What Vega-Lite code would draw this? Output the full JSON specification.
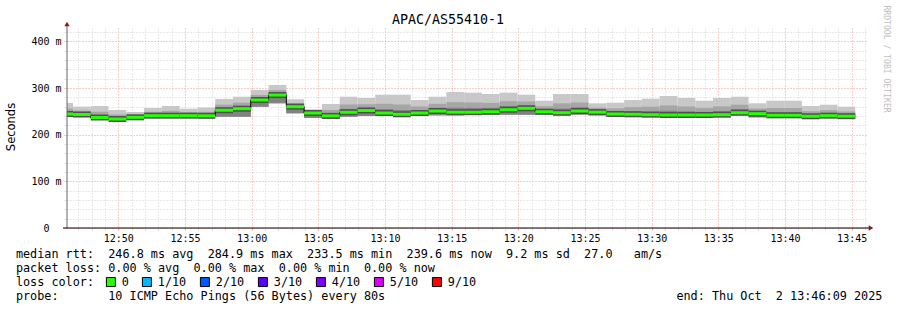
{
  "$schema": "https://vega.github.io/schema/vega-lite/v6.json",
  "width": 800,
  "height": 200,
  "autosize": "none",
  "padding": {"left": 67, "top": 28, "right": 30, "bottom": 82},
  "background": "white",
  "config": {"view": {"stroke": null}},
  "title": {"text": "APAC/AS55410-1", "font": "DejaVu Sans Mono", "fontSize": 13.3, "fontWeight": "normal", "color": "black", "anchor": "middle", "frame": "group", "dx": -19, "offset": -32, "baseline": "alphabetic"},
  "datasets": {
    "steps": [
      {"t0": "2025-10-02T12:45:16Z", "t1": "2025-10-02T12:46:36Z", "lo": 238.5, "hi": 267.9, "b": 256.1, "c": 249.5, "m": 244.3, "loss": "0"},
      {"t0": "2025-10-02T12:46:36Z", "t1": "2025-10-02T12:47:56Z", "lo": 238.5, "hi": 260.0, "b": 251.6, "c": 246.9, "m": 243.2, "loss": "0"},
      {"t0": "2025-10-02T12:47:56Z", "t1": "2025-10-02T12:49:16Z", "lo": 233.6, "hi": 261.4, "b": 249.1, "c": 242.2, "m": 236.8, "loss": "0"},
      {"t0": "2025-10-02T12:49:16Z", "t1": "2025-10-02T12:50:36Z", "lo": 232.5, "hi": 252.9, "b": 243.2, "c": 237.8, "m": 233.5, "loss": "0"},
      {"t0": "2025-10-02T12:50:36Z", "t1": "2025-10-02T12:51:56Z", "lo": 234.2, "hi": 248.6, "b": 242.9, "c": 239.7, "m": 237.2, "loss": "0"},
      {"t0": "2025-10-02T12:51:56Z", "t1": "2025-10-02T12:53:16Z", "lo": 236.8, "hi": 257.2, "b": 249.0, "c": 244.3, "m": 240.7, "loss": "0"},
      {"t0": "2025-10-02T12:53:16Z", "t1": "2025-10-02T12:54:36Z", "lo": 236.8, "hi": 261.4, "b": 251.1, "c": 245.3, "m": 240.7, "loss": "0"},
      {"t0": "2025-10-02T12:54:36Z", "t1": "2025-10-02T12:55:56Z", "lo": 237.2, "hi": 255.7, "b": 248.2, "c": 244.0, "m": 240.7, "loss": "0"},
      {"t0": "2025-10-02T12:55:56Z", "t1": "2025-10-02T12:57:16Z", "lo": 235.7, "hi": 258.0, "b": 249.2, "c": 244.3, "m": 240.4, "loss": "0"},
      {"t0": "2025-10-02T12:57:16Z", "t1": "2025-10-02T12:58:36Z", "lo": 238.5, "hi": 276.4, "b": 264.4, "c": 257.7, "m": 252.4, "loss": "0"},
      {"t0": "2025-10-02T12:58:36Z", "t1": "2025-10-02T12:59:56Z", "lo": 238.5, "hi": 281.4, "b": 268.6, "c": 261.4, "m": 255.7, "loss": "0"},
      {"t0": "2025-10-02T12:59:56Z", "t1": "2025-10-02T13:01:16Z", "lo": 260.0, "hi": 295.7, "b": 285.0, "c": 279.0, "m": 274.3, "loss": "0"},
      {"t0": "2025-10-02T13:01:16Z", "t1": "2025-10-02T13:02:36Z", "lo": 267.2, "hi": 306.4, "b": 295.7, "c": 289.6, "m": 284.9, "loss": "0"},
      {"t0": "2025-10-02T13:02:36Z", "t1": "2025-10-02T13:03:56Z", "lo": 245.8, "hi": 275.8, "b": 267.9, "c": 263.5, "m": 260.0, "loss": "0"},
      {"t0": "2025-10-02T13:03:56Z", "t1": "2025-10-02T13:05:16Z", "lo": 235.7, "hi": 254.4, "b": 250.4, "c": 248.2, "m": 246.4, "loss": "0"},
      {"t0": "2025-10-02T13:05:16Z", "t1": "2025-10-02T13:06:36Z", "lo": 234.2, "hi": 265.7, "b": 253.0, "c": 245.9, "m": 240.3, "loss": "0"},
      {"t0": "2025-10-02T13:06:36Z", "t1": "2025-10-02T13:07:56Z", "lo": 238.5, "hi": 281.4, "b": 264.7, "c": 255.3, "m": 248.0, "loss": "0"},
      {"t0": "2025-10-02T13:07:56Z", "t1": "2025-10-02T13:09:16Z", "lo": 240.0, "hi": 278.6, "b": 265.2, "c": 257.7, "m": 251.8, "loss": "0"},
      {"t0": "2025-10-02T13:09:16Z", "t1": "2025-10-02T13:10:36Z", "lo": 240.0, "hi": 285.7, "b": 266.1, "c": 255.0, "m": 246.4, "loss": "0"},
      {"t0": "2025-10-02T13:10:36Z", "t1": "2025-10-02T13:11:56Z", "lo": 240.0, "hi": 285.7, "b": 264.7, "c": 252.9, "m": 243.7, "loss": "0"},
      {"t0": "2025-10-02T13:11:56Z", "t1": "2025-10-02T13:13:16Z", "lo": 240.0, "hi": 274.3, "b": 260.4, "c": 252.5, "m": 246.4, "loss": "0"},
      {"t0": "2025-10-02T13:13:16Z", "t1": "2025-10-02T13:14:36Z", "lo": 241.5, "hi": 281.4, "b": 266.1, "c": 257.5, "m": 250.7, "loss": "0"},
      {"t0": "2025-10-02T13:14:36Z", "t1": "2025-10-02T13:15:56Z", "lo": 241.5, "hi": 291.4, "b": 269.8, "c": 257.7, "m": 248.2, "loss": "0"},
      {"t0": "2025-10-02T13:15:56Z", "t1": "2025-10-02T13:17:16Z", "lo": 242.8, "hi": 290.0, "b": 269.1, "c": 257.4, "m": 248.2, "loss": "0"},
      {"t0": "2025-10-02T13:17:16Z", "t1": "2025-10-02T13:18:36Z", "lo": 242.8, "hi": 287.2, "b": 268.2, "c": 257.6, "m": 249.2, "loss": "0"},
      {"t0": "2025-10-02T13:18:36Z", "t1": "2025-10-02T13:19:56Z", "lo": 242.8, "hi": 290.0, "b": 271.8, "c": 261.5, "m": 253.5, "loss": "0"},
      {"t0": "2025-10-02T13:19:56Z", "t1": "2025-10-02T13:21:16Z", "lo": 242.8, "hi": 285.7, "b": 271.1, "c": 262.9, "m": 256.5, "loss": "0"},
      {"t0": "2025-10-02T13:21:16Z", "t1": "2025-10-02T13:22:36Z", "lo": 242.8, "hi": 272.8, "b": 261.0, "c": 254.4, "m": 249.2, "loss": "0"},
      {"t0": "2025-10-02T13:22:36Z", "t1": "2025-10-02T13:23:56Z", "lo": 241.5, "hi": 287.2, "b": 267.2, "c": 255.9, "m": 247.1, "loss": "0"},
      {"t0": "2025-10-02T13:23:56Z", "t1": "2025-10-02T13:25:16Z", "lo": 242.8, "hi": 287.2, "b": 269.0, "c": 258.7, "m": 250.7, "loss": "0"},
      {"t0": "2025-10-02T13:25:16Z", "t1": "2025-10-02T13:26:36Z", "lo": 241.5, "hi": 267.2, "b": 257.8, "c": 252.5, "m": 248.3, "loss": "0"},
      {"t0": "2025-10-02T13:26:36Z", "t1": "2025-10-02T13:27:56Z", "lo": 240.0, "hi": 268.5, "b": 256.4, "c": 249.6, "m": 244.3, "loss": "0"},
      {"t0": "2025-10-02T13:27:56Z", "t1": "2025-10-02T13:29:16Z", "lo": 240.0, "hi": 274.3, "b": 259.0, "c": 250.4, "m": 243.7, "loss": "0"},
      {"t0": "2025-10-02T13:29:16Z", "t1": "2025-10-02T13:30:36Z", "lo": 238.5, "hi": 277.1, "b": 260.0, "c": 250.3, "m": 242.8, "loss": "0"},
      {"t0": "2025-10-02T13:30:36Z", "t1": "2025-10-02T13:31:56Z", "lo": 238.5, "hi": 282.9, "b": 262.6, "c": 251.2, "m": 242.2, "loss": "0"},
      {"t0": "2025-10-02T13:31:56Z", "t1": "2025-10-02T13:33:16Z", "lo": 238.5, "hi": 278.6, "b": 260.4, "c": 250.2, "m": 242.2, "loss": "0"},
      {"t0": "2025-10-02T13:33:16Z", "t1": "2025-10-02T13:34:36Z", "lo": 238.5, "hi": 272.8, "b": 257.5, "c": 248.9, "m": 242.2, "loss": "0"},
      {"t0": "2025-10-02T13:34:36Z", "t1": "2025-10-02T13:35:56Z", "lo": 238.5, "hi": 278.6, "b": 260.7, "c": 250.7, "m": 242.8, "loss": "0"},
      {"t0": "2025-10-02T13:35:56Z", "t1": "2025-10-02T13:37:16Z", "lo": 241.5, "hi": 281.4, "b": 264.3, "c": 254.6, "m": 247.1, "loss": "0"},
      {"t0": "2025-10-02T13:37:16Z", "t1": "2025-10-02T13:38:36Z", "lo": 237.2, "hi": 267.2, "b": 256.1, "c": 249.9, "m": 245.0, "loss": "0"},
      {"t0": "2025-10-02T13:38:36Z", "t1": "2025-10-02T13:39:56Z", "lo": 238.5, "hi": 272.8, "b": 257.2, "c": 248.4, "m": 241.5, "loss": "0"},
      {"t0": "2025-10-02T13:39:56Z", "t1": "2025-10-02T13:41:16Z", "lo": 238.5, "hi": 272.8, "b": 257.2, "c": 248.4, "m": 241.5, "loss": "0"},
      {"t0": "2025-10-02T13:41:16Z", "t1": "2025-10-02T13:42:36Z", "lo": 234.2, "hi": 261.4, "b": 250.4, "c": 244.2, "m": 239.4, "loss": "0"},
      {"t0": "2025-10-02T13:42:36Z", "t1": "2025-10-02T13:43:56Z", "lo": 237.2, "hi": 264.2, "b": 252.5, "c": 245.9, "m": 240.7, "loss": "0"},
      {"t0": "2025-10-02T13:43:56Z", "t1": "2025-10-02T13:45:16Z", "lo": 234.2, "hi": 260.0, "b": 249.8, "c": 244.1, "m": 239.6, "loss": "0"}
    ]
  },
  "data": {"name": "steps"},
  "resolve": {"axis": {"y": "independent"}},
  "layer": [
    {
      "layer": [
        {
          "mark": {"type": "rect", "color": "#c8c8c8", "clip": true},
          "encoding": {
            "x": {
              "field": "t0", "type": "temporal",
              "scale": {"type": "utc", "domain": [
                {"year": 2025, "month": 10, "date": 2, "hours": 12, "minutes": 46, "seconds": 9, "utc": true},
                {"year": 2025, "month": 10, "date": 2, "hours": 13, "minutes": 46, "seconds": 9, "utc": true}
              ]},
              "axis": {
                "title": [
                  "median rtt:\u00a0\u00a0246.8 ms avg\u00a0\u00a0284.9 ms max\u00a0\u00a0233.5 ms min\u00a0\u00a0239.6 ms now\u00a0\u00a09.2 ms sd\u00a0\u00a027.0\u00a0\u00a0\u00a0am/s",
                  "packet loss: 0.00 % avg\u00a0\u00a00.00 % max\u00a0\u00a00.00 % min\u00a0\u00a00.00 % now",
                  "loss color:",
                  "probe:\u00a0\u00a0\u00a0\u00a0\u00a0\u00a0\u00a010 ICMP Echo Pings (56 Bytes) every 80s\u00a0\u00a0\u00a0\u00a0\u00a0\u00a0\u00a0\u00a0\u00a0\u00a0\u00a0\u00a0\u00a0\u00a0\u00a0\u00a0\u00a0\u00a0\u00a0\u00a0\u00a0\u00a0\u00a0\u00a0\u00a0\u00a0\u00a0\u00a0\u00a0\u00a0\u00a0\u00a0\u00a0\u00a0\u00a0\u00a0\u00a0\u00a0\u00a0\u00a0\u00a0end: Thu Oct\u00a0\u00a02 13:46:09 2025"
                ],
                "titleX": -51.6, "titleY": 29.5, "titleAnchor": "start", "titleAlign": "left", "titleBaseline": "alphabetic",
                "titleFont": "DejaVu Sans Mono", "titleFontSize": 11.8, "titleFontWeight": "normal", "titleColor": "black", "titleLineHeight": 14,
                "tickCount": 60,
                "labelExpr": "utcminutes(datum.value) % 5 === 0 ? utcFormat(datum.value, '%H:%M') : ''",
                "labelFont": "DejaVu Sans Mono", "labelFontSize": 10, "labelColor": "black", "labelOverlap": false, "labelFlush": false, "labelBound": false, "labelPadding": 3,
                "domain": false,
                "grid": true, "gridDash": [1, 2], "gridWidth": 1,
                "gridColor": {"condition": {"test": "utcminutes(datum.value) % 5 === 0", "value": "#f09a9a"}, "value": "#d2d2d2"},
                "ticks": true, "tickSize": 2, "tickWidth": 1,
                "tickColor": {"condition": {"test": "utcminutes(datum.value) % 5 === 0", "value": "#f09a9a"}, "value": "#d2d2d2"}
              }
            },
            "x2": {"field": "t1"},
            "y": {
              "field": "lo", "type": "quantitative",
              "scale": {"domain": [0, 428.6], "nice": false, "zero": true},
              "axis": {
                "orient": "left",
                "title": "Seconds", "titleFont": "DejaVu Sans", "titleFontSize": 11.5, "titleFontWeight": "normal", "titleColor": "black",
                "titleX": -56, "titleY": 98.5, "titleAngle": -90, "titleBaseline": "middle", "titleAlign": "center",
                "values": [0, 100, 200, 300, 400],
                "labelExpr": "datum.value === 0 ? '0\u00a0\u00a0\u200b' : datum.value + '\u00a0m'",
                "labelFont": "DejaVu Sans Mono", "labelFontSize": 10, "labelColor": "black", "labelOverlap": false, "labelBound": false, "labelFlush": false, "labelPadding": 2,
                "domain": false,
                "grid": true, "gridDash": [1, 2], "gridWidth": 1, "gridColor": "#f09a9a",
                "ticks": true, "tickSize": 4, "tickWidth": 1, "tickDash": [1, 1], "tickColor": "#f09a9a"
              }
            },
            "y2": {"field": "hi"}
          }
        },
        {
          "mark": {"type": "rect", "color": "#a6a6a6", "clip": true},
          "encoding": {
            "x": {"field": "t0", "type": "temporal"},
            "x2": {"field": "t1"},
            "y": {"field": "lo", "type": "quantitative"},
            "y2": {"field": "b"}
          }
        },
        {
          "mark": {"type": "rect", "color": "#828282", "clip": true},
          "encoding": {
            "x": {"field": "t0", "type": "temporal"},
            "x2": {"field": "t1"},
            "y": {"field": "lo", "type": "quantitative"},
            "y2": {"field": "c"}
          }
        },
        {
          "mark": {"type": "rule", "color": "#505050", "strokeWidth": 6, "strokeCap": "butt", "clip": true},
          "encoding": {
            "x": {"field": "t0", "type": "temporal"},
            "x2": {"field": "t1"},
            "y": {"field": "m", "type": "quantitative"}
          }
        },
        {
          "mark": {"type": "line", "color": "black", "strokeWidth": 1, "interpolate": "step-after", "clip": true},
          "encoding": {
            "x": {"field": "t0", "type": "temporal"},
            "y": {"field": "m", "type": "quantitative"}
          }
        },
        {
          "mark": {"type": "rule", "color": "#26ff00", "strokeWidth": 3, "strokeCap": "butt", "clip": true},
          "encoding": {
            "x": {"field": "t0", "type": "temporal"},
            "x2": {"field": "t1"},
            "y": {"field": "m", "type": "quantitative"}
          }
        },
        {
          "mark": {"type": "point", "shape": "square", "filled": true, "size": 0, "opacity": 1, "clip": true},
          "encoding": {
            "x": {"field": "t0", "type": "temporal"},
            "y": {"field": "m", "type": "quantitative"},
            "fill": {
              "field": "loss", "type": "nominal",
              "scale": {"domain": ["0", "1/10", "2/10", "3/10", "4/10", "5/10", "9/10"], "range": ["#26ff00", "#00b8ff", "#0059ff", "#5e00ff", "#7e00ff", "#dd00ff", "#ff0000"]},
              "legend": {
                "title": null, "orient": "none", "legendX": 38, "legendY": 248, "direction": "horizontal", "columns": 7,
                "labelFont": "DejaVu Sans Mono", "labelFontSize": 11.8, "labelColor": "black", "labelOffset": 5, "columnPadding": 11,
                "symbolType": "square", "symbolSize": 81, "symbolStrokeColor": "black", "symbolStrokeWidth": 1, "symbolOpacity": 1,
                "padding": 0, "gridAlign": "each", "labelLimit": 200
              }
            }
          }
        },
        {
          "data": {"values": [{}]},
          "mark": {"type": "rule", "color": "#666666", "strokeWidth": 1},
          "encoding": {
            "x": {"datum": {"year": 2025, "month": 10, "date": 2, "hours": 12, "minutes": 46, "seconds": 9, "utc": true}, "type": "temporal"},
            "y": {"datum": 0, "type": "quantitative"},
            "y2": {"datum": 437}
          }
        },
        {
          "data": {"values": [{}]},
          "mark": {"type": "rule", "color": "black", "strokeWidth": 1},
          "encoding": {
            "x": {"datum": {"year": 2025, "month": 10, "date": 2, "hours": 12, "minutes": 45, "seconds": 51, "utc": true}, "type": "temporal"},
            "x2": {"datum": {"year": 2025, "month": 10, "date": 2, "hours": 13, "minutes": 46, "seconds": 22, "utc": true}},
            "y": {"datum": 0, "type": "quantitative"}
          }
        },
        {
          "data": {"values": [{}]},
          "mark": {"type": "point", "shape": "triangle-up", "filled": true, "color": "#8b1a1a", "opacity": 1, "size": 28},
          "encoding": {
            "x": {"datum": {"year": 2025, "month": 10, "date": 2, "hours": 12, "minutes": 46, "seconds": 9, "utc": true}, "type": "temporal"},
            "y": {"datum": 437, "type": "quantitative"}
          }
        },
        {
          "data": {"values": [{}]},
          "mark": {"type": "point", "shape": "triangle-right", "filled": true, "color": "#8b1a1a", "opacity": 1, "size": 28},
          "encoding": {
            "x": {"datum": {"year": 2025, "month": 10, "date": 2, "hours": 13, "minutes": 46, "seconds": 27, "utc": true}, "type": "temporal"},
            "y": {"datum": 0, "type": "quantitative"}
          }
        },
        {
          "data": {"values": [{"label": "RRDTOOL / TOBI OETIKER"}]},
          "mark": {"type": "text", "angle": 90, "font": "DejaVu Sans Mono", "fontSize": 8.1, "color": "#c0c0c0", "align": "center", "baseline": "middle"},
          "encoding": {
            "x": {"datum": {"year": 2025, "month": 10, "date": 2, "hours": 13, "minutes": 47, "seconds": 35, "utc": true}, "type": "temporal"},
            "y": {"datum": 362, "type": "quantitative"},
            "text": {"field": "label"}
          }
        }
      ]
    },
    {
      "data": {"values": [{}]},
      "mark": {"type": "rule", "opacity": 0},
      "encoding": {
        "y": {
          "datum": 0, "type": "quantitative",
          "axis": {
            "orient": "left", "title": null, "labels": false, "domain": false,
            "values": [20, 40, 60, 80, 120, 140, 160, 180, 220, 240, 260, 280, 320, 340, 360, 380, 420],
            "grid": true, "gridDash": [1, 2], "gridWidth": 1, "gridColor": "#d2d2d2",
            "ticks": true, "tickSize": 4, "tickWidth": 1, "tickDash": [1, 1], "tickColor": "#d2d2d2"
          }
        }
      }
    }
  ]
}
